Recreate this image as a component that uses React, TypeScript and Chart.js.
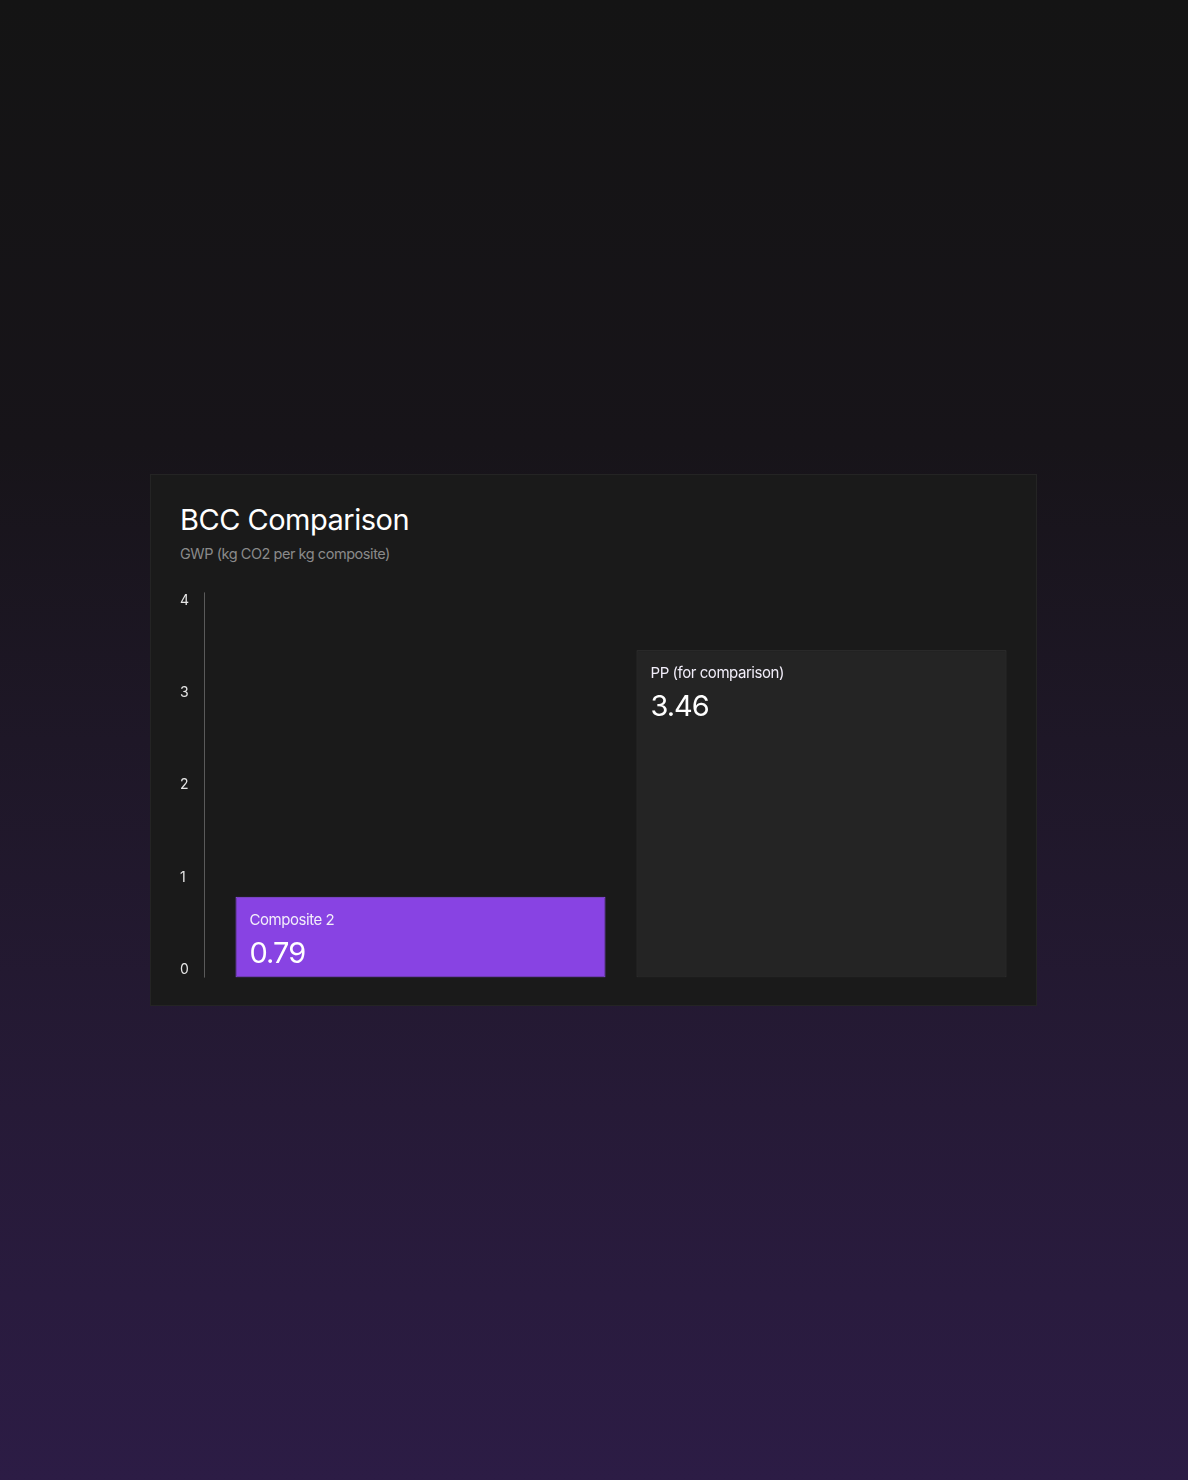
import { useEffect, useRef } from "react";
import { Chart, registerables, ChartConfiguration, Plugin } from "chart.js";

Chart.register(...registerables);

const CATEGORIES = ["Composite 2", "PP (for comparison)"];
const GWP_VALUES = [0.79, 3.46];
const Y_TICKS = [0, 1, 2, 3, 4];

const BAR_FILLS = ["#8843e3", "#242424"];
const BAR_BORDERS = ["#9152ea", "#353535"];

// draws the category name and value inside the top-left of each bar
const barLabels: Plugin<"bar"> = {
  id: "barLabels",
  afterDatasetsDraw(chart) {
    const ctx = chart.ctx as any;
    const meta = chart.getDatasetMeta(0);
    ctx.save();
    ctx.textAlign = "left";
    ctx.textBaseline = "alphabetic";
    meta.data.forEach((el: any, i) => {
      const left = el.x - el.width / 2;
      ctx.fillStyle = "#f2eefa";
      ctx.font = "15px Inter";
      ctx.letterSpacing = "-0.45px";
      ctx.fillText(CATEGORIES[i], left + 14, el.y + 28);
      ctx.fillStyle = "#ffffff";
      ctx.font = "29px Inter";
      ctx.letterSpacing = "-1px";
      ctx.fillText(GWP_VALUES[i].toFixed(2), left + 14, el.y + 66);
    });
    ctx.restore();
  },
};

// axis line sits a little left of the plot area
const axisLine: Plugin<"bar"> = {
  id: "axisLine",
  afterDraw(chart) {
    const { ctx, chartArea } = chart;
    const x = Math.round(chartArea.left - 16) + 0.5;
    ctx.save();
    ctx.strokeStyle = "#5a5a5a";
    ctx.lineWidth = 1;
    ctx.beginPath();
    ctx.moveTo(x, chartArea.top);
    ctx.lineTo(x, chartArea.bottom);
    ctx.stroke();
    ctx.restore();
  },
};

function BccChart() {
  const canvasRef = useRef<HTMLCanvasElement>(null);
  const chartRef = useRef<Chart | null>(null);

  useEffect(() => {
    if (!canvasRef.current) return;
    if (chartRef.current) chartRef.current.destroy();

    const pad = 8 / 92.25; // 8px of room above 4 and below 0
    const yMin = -pad;

    const config: ChartConfiguration<"bar"> = {
      type: "bar",
      data: {
        labels: CATEGORIES,
        datasets: [
          {
            data: GWP_VALUES,
            base: yMin,
            backgroundColor: BAR_FILLS,
            borderColor: BAR_BORDERS,
            borderWidth: 1,
            borderSkipped: false,
            categoryPercentage: 1,
            barPercentage: 370 / 401,
          },
        ],
      },
      options: {
        responsive: true,
        maintainAspectRatio: false,
        animation: false,
        layout: { padding: { top: 8, bottom: 0, left: 0, right: 0 } },
        plugins: {
          legend: { display: false },
          tooltip: { enabled: false },
        },
        scales: {
          x: {
            display: false,
          },
          y: {
            min: yMin,
            max: 4 + pad,
            afterBuildTicks(scale) {
              scale.ticks = Y_TICKS.map((v) => ({ value: v }));
            },
            afterFit(scale) {
              scale.width = 40;
            },
            grid: { display: false, drawTicks: false },
            border: { display: false },
            ticks: {
              color: "#e6e6e6",
              font: { family: "Inter", size: 14 },
              crossAlign: "far",
              padding: 0,
            },
          },
        },
      },
      plugins: [barLabels, axisLine],
    };

    chartRef.current = new Chart(canvasRef.current, config);

    return () => {
      if (chartRef.current) {
        chartRef.current.destroy();
        chartRef.current = null;
      }
    };
  }, []);

  return (
    <div style={{ position: "absolute", left: 29, top: 109, width: 842, height: 402 }}>
      <canvas ref={canvasRef}></canvas>
    </div>
  );
}

export default function App() {
  useEffect(() => {
    document.body.style.margin = "0";
  }, []);

  return (
    <div
      style={{
        position: "absolute",
        left: 0,
        top: 0,
        width: 1188,
        height: 1480,
        overflow: "hidden",
        background: "linear-gradient(180deg, #141414 0%, #171419 30%, #1e1727 50%, #261a37 75%, #2c1c45 100%)",
        fontFamily: "Inter, sans-serif",
      }}
    >
      <div
        style={{
          position: "absolute",
          left: 150,
          top: 474,
          width: 887,
          height: 532,
          boxSizing: "border-box",
          background: "#1a1a1a",
          border: "1px solid #242424",
        }}
      >
        <div
          style={{
            position: "absolute",
            left: 29,
            top: 30,
            fontSize: 29,
            lineHeight: "29px",
            color: "#ffffff",
            letterSpacing: "-0.5px",
            whiteSpace: "nowrap",
          }}
        >
          BCC Comparison
        </div>
        <div
          style={{
            position: "absolute",
            left: 29,
            top: 71,
            fontSize: 14.5,
            lineHeight: "15px",
            color: "#8a8a8a",
            letterSpacing: "-0.45px",
            whiteSpace: "nowrap",
          }}
        >
          GWP (kg CO2 per kg composite)
        </div>
        <BccChart />
      </div>
    </div>
  );
}
